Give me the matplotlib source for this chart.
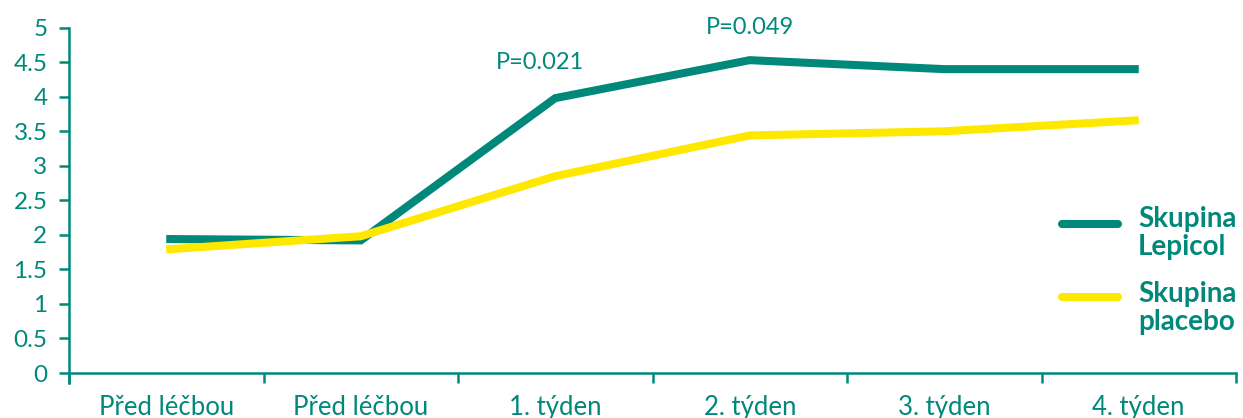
import matplotlib
matplotlib.use("Agg")
import matplotlib.pyplot as plt
from matplotlib.lines import Line2D
import numpy as np

categories = ["Před léčbou", "Před léčbou", "1. týden", "2. týden", "3. týden", "4. týden"]
lepicol = [1.94, 1.92, 3.98, 4.53, 4.40, 4.40]
placebo = [1.79, 1.98, 2.85, 3.44, 3.50, 3.66]
y_ticks = [0, 0.5, 1, 1.5, 2, 2.5, 3, 3.5, 4, 4.5, 5]
y_tick_labels = ["0", "0.5", "1", "1.5", "2", "2.5", "3", "3.5", "4", "4.5", "5"]
annotations = [(1.92, 4.50, "P=0.021"), (3.0, 5.01, "P=0.049")]
legend_labels = ["Skupina\nLepicol", "Skupina\nplacebo"]

TEAL = "#00897a"
YELLOW = "#ffe800"
plt.rcParams['font.family'] = ['Lato', 'DejaVu Sans']

W, H = 1243, 418
fig = plt.figure(figsize=(W / 100, H / 100), dpi=100)
ax = fig.add_axes([69 / W, (H - 373) / H, (1236 - 69) / W, (373 - 27.7) / H])

x = np.arange(len(categories))
ax.plot(x, lepicol, color=TEAL, lw=5.8, solid_joinstyle='miter', solid_capstyle='butt')
ax.plot(x, placebo, color=YELLOW, lw=5.8, solid_joinstyle='miter', solid_capstyle='butt')

ax.set_xlim(-0.5, len(categories) - 0.5)
ax.set_ylim(0, 5)
ax.set_yticks(y_ticks)
ax.set_yticklabels(y_tick_labels)
ax.set_xticks(x)
ax.set_xticklabels(categories)
ax.set_xticks(np.arange(-0.5, len(categories), 1.0), minor=True)
ax.tick_params(axis='x', which='major', length=0, pad=16, labelsize=18.5, labelcolor=TEAL)
ax.tick_params(axis='x', which='minor', length=7.5, width=1.8, color=TEAL, direction='out')
ax.tick_params(axis='y', length=7.5, width=1.8, color=TEAL, direction='out', pad=8, labelsize=17.5, labelcolor=TEAL)

for s in ['top', 'right']:
    ax.spines[s].set_visible(False)
for s in ['left', 'bottom']:
    ax.spines[s].set_color(TEAL)
    ax.spines[s].set_linewidth(1.8)
ax.spines['left'].set_bounds(-0.15, 5)

for xa, ya, txt in annotations:
    ax.text(xa, ya, txt, ha='center', va='center', fontsize=17, color=TEAL, clip_on=False)

# legend
legend_items = [(224, 233, TEAL), (297, 308, YELLOW)]
for (ly, ty, col), lab in zip(legend_items, legend_labels):
    fig.add_artist(Line2D([1062 / W, 1118 / W], [1 - ly / H] * 2, color=col, lw=5.8,
                          solid_capstyle='round'))
    fig.text(1138 / W, 1 - ty / H, lab, ha='left', va='center', fontsize=20,
             fontweight='bold', color=TEAL, linespacing=1.05)

fig.savefig("out.png", dpi=100)
